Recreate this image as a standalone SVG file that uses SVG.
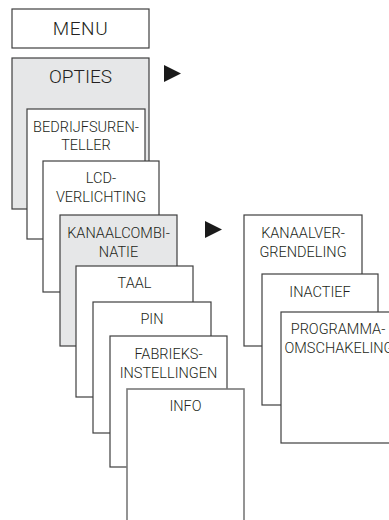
<svg xmlns="http://www.w3.org/2000/svg" width="389" height="520" viewBox="0 0 389 520">
<style>
.box{fill:#ffffff;stroke:#3f3f3f;stroke-width:1.2}
.sel{fill:#e6e7e8;stroke:#3f3f3f;stroke-width:1.2}
.faint{fill:#ffffff;stroke:#7a7a7a;stroke-width:1.6}
.t{font-family:Roboto,"Liberation Sans",sans-serif;font-size:14.5px;font-weight:300;fill:#231f20;text-anchor:middle}
.h{font-family:Roboto,"Liberation Sans",sans-serif;font-size:19px;font-weight:300;fill:#231f20;text-anchor:middle}
.arr{fill:#1a1a1a}
</style>
<rect width="389" height="520" fill="#ffffff"/>
<g id="menu"><rect class="box" x="12" y="9" width="137" height="39"/><text class="h" x="80.5" y="35" letter-spacing="0.6">MENU</text></g>
<g id="opties"><rect class="sel" x="12" y="58" width="137" height="151"/><text class="h" x="80.5" y="83">OPTIES</text></g>
<g id="bedrijfsurenteller"><rect class="box" x="27" y="109" width="118" height="130"/><text class="t" x="86" y="132">BEDRIJFSUREN-</text><text class="t" x="86" y="150">TELLER</text></g>
<g id="lcd"><rect class="box" x="43" y="161" width="116" height="131"/><text class="t" x="101" y="183">LCD-</text><text class="t" x="101" y="202">VERLICHTING</text></g>
<g id="kanaalcombinatie"><rect class="sel" x="60" y="215" width="117" height="131"/><text class="t" x="118.5" y="238">KANAALCOMBI-</text><text class="t" x="118.5" y="257">NATIE</text></g>
<g id="taal"><rect class="box" x="76" y="266" width="117" height="131"/><text class="t" x="134.5" y="288">TAAL</text></g>
<g id="pin"><rect class="box" x="93" y="302" width="118" height="131"/><text class="t" x="152" y="324">PIN</text></g>
<g id="fabrieksinstellingen"><rect class="box" x="110" y="336" width="117" height="131"/><text class="t" x="168.5" y="359">FABRIEKS-</text><text class="t" x="168.5" y="378">INSTELLINGEN</text></g>
<g id="info"><rect class="faint" x="127" y="389" width="117" height="145"/><text class="t" x="185.5" y="411">INFO</text></g>
<g id="kanaalvergrendeling"><rect class="box" x="244" y="215" width="118" height="131"/><text class="t" x="303" y="238">KANAALVER-</text><text class="t" x="303" y="257">GRENDELING</text></g>
<g id="inactief"><rect class="box" x="262" y="274" width="116" height="131"/><text class="t" x="320" y="297">INACTIEF</text></g>
<g id="programmaomschakeling"><rect class="box" x="281" y="312" width="125" height="131"/><text class="t" x="338" y="334">PROGRAMMA-</text><text class="t" x="339" y="353">OMSCHAKELING</text></g>
<g id="connectors">
<polygon class="arr" points="164,65 181,73.5 164,82"/>
<polygon class="arr" points="205,221 222,229.5 205,238"/>
</g>
</svg>
